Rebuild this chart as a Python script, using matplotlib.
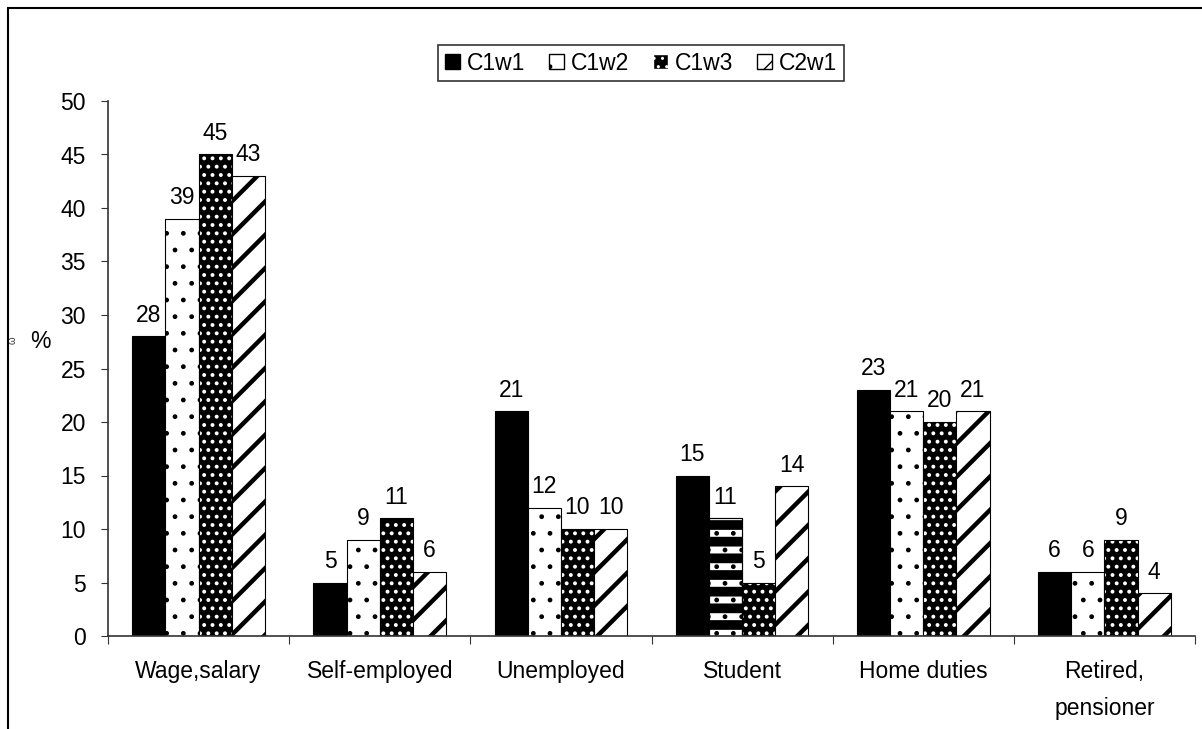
import matplotlib
matplotlib.use("Agg")
import matplotlib.pyplot as plt
import numpy as np
from matplotlib.patches import Patch, Rectangle

categories = ["Wage,salary", "Self-employed", "Unemployed", "Student", "Home duties", "Retired,\npensioner"]
series_names = ["C1w1", "C1w2", "C1w3", "C2w1"]
c1w1 = [28, 5, 21, 15, 23, 6]
c1w2 = [39, 9, 12, 11, 21, 6]
c1w3 = [45, 11, 10, 5, 20, 9]
c2w1 = [43, 6, 10, 14, 21, 4]
yticks = [0, 5, 10, 15, 20, 25, 30, 35, 40, 45, 50]

plt.rcParams['font.family'] = ['Liberation Sans', 'DejaVu Sans']
fs = 16.5

fig = plt.figure(figsize=(12.02, 7.29), dpi=100)
ax = fig.add_axes([108/1202, 1-636/729, (1195-108)/1202, (636-101)/729])

x = np.arange(len(categories))
w = 0.183
offs = [-1.5*w, -0.5*w, 0.5*w, 1.5*w]

def set_hlw(p, lw):
    try:
        p.set_hatch_linewidth(lw)
    except Exception:
        pass

# C1w1 solid black
b1 = ax.bar(x+offs[0], c1w1, w, color='black', edgecolor='black', lw=0.8)
# C1w2 white with sparse dots
b2 = ax.bar(x+offs[1], c1w2, w, color='white', edgecolor='black', lw=0.8, hatch='.')
for p in b2:
    set_hlw(p, 1.0)
# special striped pattern for the Student bar (stripes + dots)
sp = b2[3]
sp.set_hatch('-')
set_hlw(sp, 7.0)
ov = ax.bar(x[3]+offs[1], c1w2[3], w, fill=False, edgecolor='black', lw=0.8, hatch='.')
for p in ov:
    set_hlw(p, 1.0)
# C1w3 black with white dots
b3 = ax.bar(x+offs[2], c1w3, w, color='black', edgecolor='white', lw=0, hatch='..')
for p in b3:
    set_hlw(p, 1.6)
ax.bar(x+offs[2], c1w3, w, fill=False, edgecolor='black', lw=0.8)
# C2w1 white with thick diagonal stripes
b4 = ax.bar(x+offs[3], c2w1, w, color='white', edgecolor='black', lw=0.8, hatch='/')
for p in b4:
    set_hlw(p, 3.2)

for vals, off in zip([c1w1, c1w2, c1w3, c2w1], offs):
    for xi, v in zip(x, vals):
        ax.text(xi+off, v+0.9, str(v), ha='center', va='bottom', fontsize=fs)

ax.set_xlim(-0.5, len(categories)-0.5)
ax.set_ylim(0, 50)
ax.set_yticks(yticks)
ax.set_yticklabels([str(t) for t in yticks], fontsize=fs)
ax.set_xticks(np.arange(-0.5, len(categories), 1.0))
ax.set_xticklabels([])
ax.set_xticks(x, minor=True)
ax.set_xticklabels(categories, minor=True, fontsize=fs, linespacing=1.8)
ax.tick_params(axis='x', which='minor', length=0, pad=17)
ax.tick_params(axis='x', which='major', length=6, direction='out', color='#333333')
ax.tick_params(axis='y', length=5, direction='out', pad=11, color='#333333')
for s in ['top', 'right']:
    ax.spines[s].set_visible(False)
for s in ['left', 'bottom']:
    ax.spines[s].set_color('#333333')
    ax.spines[s].set_linewidth(1.2)

fig.text(40/1202, 1-342/729, '%', fontsize=fs, ha='center', va='center')
fig.text(13/1202, 1-340/729, 'ω', fontsize=7, rotation=90, ha='center', va='center', color='#333333')

handles = [
    Patch(facecolor='black', edgecolor='black'),
    Patch(facecolor='white', edgecolor='black', hatch='.'),
    Patch(facecolor='black', edgecolor='white', hatch='..'),
    Patch(facecolor='white', edgecolor='black', hatch='/'),
]
leg = fig.legend(handles, series_names, loc='center', bbox_to_anchor=(641/1202, 1-63/729),
                 ncol=4, frameon=True, fancybox=False, edgecolor='black', fontsize=fs,
                 handlelength=0.65, handleheight=0.65, handletextpad=0.3, columnspacing=1.05,
                 borderpad=0.3)
leg.get_frame().set_linewidth(1.2)

fig.add_artist(Rectangle((8/1202, -0.1), 1.2, 1.1 - 8/729, transform=fig.transFigure,
                         fill=False, edgecolor='black', lw=1.5))

fig.savefig('out.png', dpi=100)
